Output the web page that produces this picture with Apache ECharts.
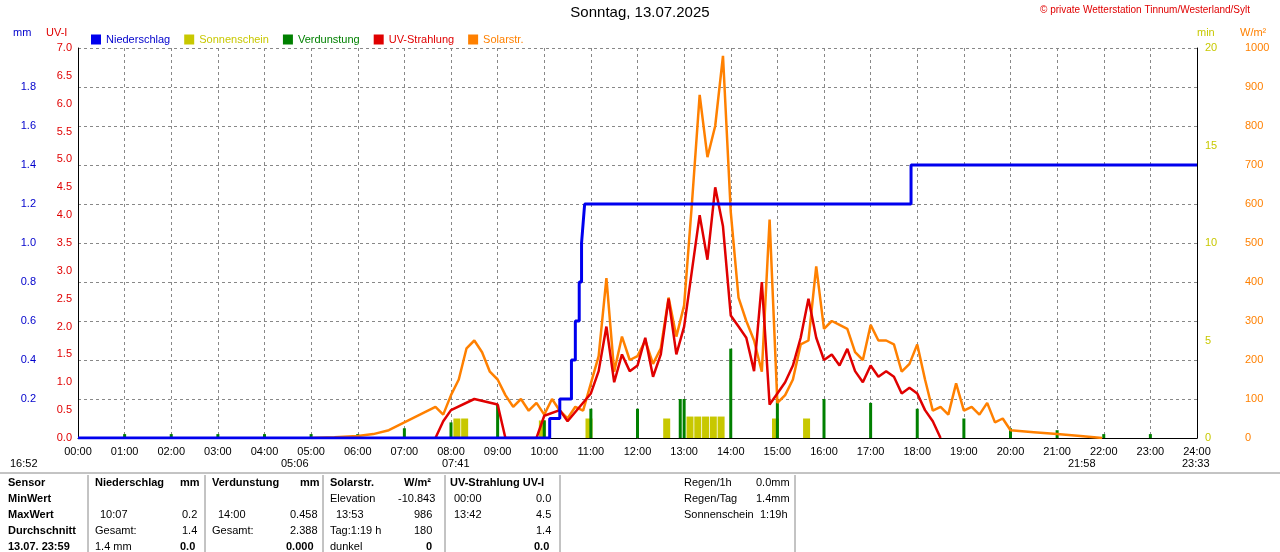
<!DOCTYPE html>
<html><head><meta charset="utf-8">
<script src="https://cdn.jsdelivr.net/npm/echarts@6/dist/echarts.min.js"></script>
<style>body{margin:0;background:#fff}#c{width:1280px;height:552px}</style>
</head><body><div id="c"></div>
<script>
const hourLabels=['00:00','01:00','02:00','03:00','04:00','05:00','06:00','07:00','08:00','09:00','10:00','11:00','12:00','13:00','14:00','15:00','16:00','17:00','18:00','19:00','20:00','21:00','22:00','23:00','24:00'];
const rainTimes=['00:00','10:00','10:07','10:20','10:35','10:40','10:45','10:48','10:50','10:52','17:52','24:00'];
const rainValues=[0,0,0.1,0.2,0.4,0.6,0.8,1.0,1.1,1.2,1.4,1.4];
const solarTimes=['05:00','05:30','06:00','06:20','06:40','07:00','07:20','07:40','07:50','08:00','08:10','08:20','08:30','08:40','08:50','09:00','09:10','09:20','09:30','09:40','09:50','10:00','10:10','10:20','10:30','10:40','10:50','11:00','11:10','11:20','11:30','11:40','11:50','12:00','12:10','12:20','12:30','12:40','12:50','13:00','13:10','13:20','13:30','13:40','13:50','14:00','14:10','14:20','14:30','14:40','14:50','15:00','15:10','15:20','15:30','15:40','15:50','16:00','16:10','16:20','16:30','16:40','16:50','17:00','17:10','17:20','17:30','17:40','17:50','18:00','18:10','18:20','18:30','18:40','18:50','19:00','19:10','19:20','19:30','19:40','19:50','20:00','20:30','21:00','21:30','21:58'];
const solarValues=[0,2,5,10,20,40,60,80,60,110,150,230,250,220,170,150,110,80,100,70,90,60,100,70,50,80,70,140,210,410,170,260,200,210,250,190,230,360,260,340,600,880,720,800,980,580,360,300,250,170,560,90,110,150,240,250,440,280,300,290,280,220,200,290,250,250,240,170,190,240,150,70,80,60,140,70,80,60,90,40,50,20,15,10,5,0];
const uvTimes=['07:40','07:50','08:00','08:30','09:00','09:10','09:50','10:00','10:20','10:30','11:00','11:10','11:20','11:30','11:40','11:50','12:00','12:10','12:20','12:30','12:40','12:50','13:00','13:10','13:20','13:30','13:40','13:50','14:00','14:10','14:20','14:30','14:40','14:50','15:00','15:10','15:20','15:30','15:40','15:50','16:00','16:10','16:20','16:30','16:40','16:50','17:00','17:10','17:20','17:30','17:40','17:50','18:00','18:10','18:20','18:30'];
const uvValues=[0,0.3,0.5,0.7,0.6,0,0,0.4,0.5,0.3,0.8,1.2,2.0,1.0,1.5,1.2,1.3,1.8,1.1,1.5,2.5,1.5,2.0,3.0,4.0,3.2,4.5,3.8,2.2,2.0,1.8,1.2,2.8,0.6,0.8,1.0,1.3,1.8,2.5,1.8,1.4,1.5,1.3,1.6,1.2,1.0,1.3,1.1,1.2,1.1,0.8,0.9,0.8,0.5,0.3,0];
const sunTimes=['08:05','08:15','09:55','10:55','12:35','13:05','13:15','13:25','13:35','13:45','14:55','15:35'];
const sunValues=[1.0,1.0,0.9,1.0,1.0,1.1,1.1,1.1,1.1,1.1,1.0,1.0];
const evapTimes=['01:00','02:00','03:00','04:00','05:00','06:00','07:00','08:00','09:00','10:00','11:00','12:00','12:55','13:00','14:00','15:00','16:00','17:00','18:00','19:00','20:00','21:00','22:00','23:00'];
const evapValues=[0.02,0.02,0.02,0.02,0.02,0.02,0.05,0.08,0.17,0.09,0.15,0.15,0.2,0.2,0.458,0.2,0.2,0.18,0.15,0.1,0.05,0.04,0.02,0.02];

const h=t=>{const[a,b]=t.split(':').map(Number);return a+b/60;};
const pair=(ts,vs)=>ts.map((t,i)=>[h(t),vs[i]]);
const ch=echarts.init(document.getElementById('c'));
const F='Arial, Liberation Sans, sans-serif';
const lab={fontSize:11,color:'#000',fontFamily:F};
const txt=(x,y,s,o={})=>({type:'text',left:x,top:y,style:Object.assign({text:s,fontSize:11,fill:'#000',fontFamily:F},o)});
const table=[
 ['Sensor',8,455,1],['MinWert',8,471,1],['MaxWert',8,487,1],['Durchschnitt',8,503,1],['13.07. 23:59',8,519,1],
 ['Niederschlag',95,455,1],['mm',180,455,1],['10:07',100,487],['0.2',182,487],['Gesamt:',95,503],['1.4',182,503],['1.4 mm',95,519],['0.0',180,519,1],
 ['Verdunstung',212,455,1],['mm',300,455,1],['14:00',218,487],['0.458',290,487],['Gesamt:',212,503],['2.388',290,503],['0.000',286,519,1],
 ['Solarstr.',330,455,1],['W/m²',404,455,1],['Elevation',330,471],['-10.843',398,471],['13:53',336,487],['986',414,487],['Tag:1:19 h',330,503],['180',414,503],['dunkel',330,519],['0',426,519,1],
 ['UV-Strahlung UV-I',450,455,1],['00:00',454,471],['0.0',536,471],['13:42',454,487],['4.5',536,487],['1.4',536,503],['0.0',534,519,1],
 ['Regen/1h',684,455],['0.0mm',756,455],['Regen/Tag',684,471],['1.4mm',756,471],['Sonnenschein',684,487],['1:19h',760,487]
];
const graphic=[
 Object.assign(txt(0,5,'Sonntag, 13.07.2025',{fontSize:15}),{left:'center'}),
 txt(1040,5,'© private Wetterstation Tinnum/Westerland/Sylt',{fill:'#e00000',fontSize:10}),
 txt(13,27,'mm',{fill:'#0000cc'}),txt(46,27,'UV-I',{fill:'#e00000'}),
 txt(1197,27,'min',{fill:'#c8c800'}),txt(1240,27,'W/m²',{fill:'#ff8000'})
];
[['16:52',10],['05:06',281],['07:41',442],['21:58',1068],['23:33',1182]].forEach(a=>graphic.push(txt(a[1],458,a[0])));
table.forEach(r=>graphic.push(txt(r[1],r[2]+22,r[0],r[3]?{fontWeight:'bold'}:{})));
[88,205,323,445,560,795].forEach(x=>graphic.push({type:'line',shape:{x1:x,y1:475,x2:x,y2:552},style:{stroke:'#888',lineWidth:1}}));
graphic.push({type:'line',shape:{x1:0,y1:473,x2:1280,y2:473},style:{stroke:'#888',lineWidth:1}});

ch.setOption({
 animation:false,backgroundColor:'#fff',
 textStyle:{fontFamily:F},
 legend:{top:29,left:86,itemWidth:10,itemHeight:10,itemGap:14,icon:'rect',
  textStyle:{fontSize:11,fontFamily:F},
  data:[{name:'Niederschlag',textStyle:{color:'#0000cc'}},{name:'Sonnenschein',textStyle:{color:'#c8c800'}},{name:'Verdunstung',textStyle:{color:'#008000'}},{name:'UV-Strahlung',textStyle:{color:'#e00000'}},{name:'Solarstr.',textStyle:{color:'#ff8000'}}]},
 grid:{left:78,right:83,top:48,bottom:114},
 xAxis:{type:'value',min:0,max:24,interval:1,axisLine:{lineStyle:{color:'#000'}},axisTick:{inside:true,length:3},
  axisLabel:Object.assign({},lab,{formatter:v=>hourLabels[v]}),
  splitLine:{show:true,lineStyle:{color:'#888',type:[3,3]}}},
 yAxis:[
  {type:'value',min:0,max:2,interval:0.2,position:'left',offset:34,axisLine:{show:false},axisTick:{show:false},
   axisLabel:Object.assign({},lab,{color:'#0000cc',formatter:v=>v===0||v>=2?'':v.toFixed(1)}),splitLine:{show:true,lineStyle:{color:'#888',type:[3,3]}}},
  {type:'value',min:0,max:7,interval:0.5,position:'left',axisLine:{show:true,lineStyle:{color:'#000'}},axisTick:{show:false},
   axisLabel:Object.assign({},lab,{color:'#e00000',margin:6,formatter:v=>v.toFixed(1)}),splitLine:{show:false}},
  {type:'value',min:0,max:20,interval:5,position:'right',axisLine:{show:true,lineStyle:{color:'#000'}},axisTick:{show:false},
   axisLabel:Object.assign({},lab,{color:'#c8c800'}),splitLine:{show:false}},
  {type:'value',min:0,max:1000,interval:100,position:'right',offset:40,axisLine:{show:false},axisTick:{show:false},
   axisLabel:Object.assign({},lab,{color:'#ff8000',formatter:v=>String(v)}),splitLine:{show:false}}
 ],
 series:[
  {name:'Solarstr.',type:'line',yAxisIndex:3,data:pair(solarTimes,solarValues),showSymbol:false,lineStyle:{color:'#ff8000',width:2.5},itemStyle:{color:'#ff8000'}},
  {name:'UV-Strahlung',type:'line',yAxisIndex:1,data:pair(uvTimes,uvValues),showSymbol:false,lineStyle:{color:'#e00000',width:2.5},itemStyle:{color:'#e00000'}},
  {name:'Sonnenschein',type:'bar',yAxisIndex:2,data:pair(sunTimes,sunValues),barWidth:7,itemStyle:{color:'#c8c800'}},
  {name:'Verdunstung',type:'bar',yAxisIndex:0,data:pair(evapTimes,evapValues),barWidth:3,barGap:'-100%',itemStyle:{color:'#008000'}},
  {name:'Niederschlag',type:'line',step:'end',yAxisIndex:0,data:pair(rainTimes,rainValues),showSymbol:false,lineStyle:{color:'#0000ee',width:3},itemStyle:{color:'#0000ee'}}
 ],
 graphic:graphic
});
</script></body></html>
